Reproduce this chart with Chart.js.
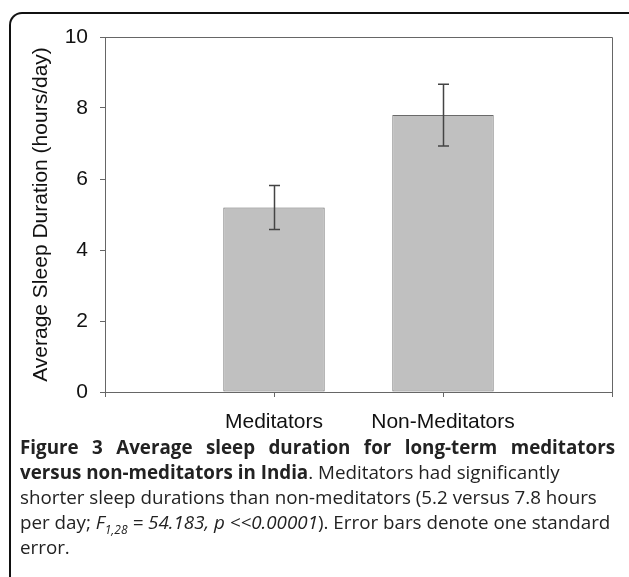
<!DOCTYPE html>
<html>
<head>
<meta charset="utf-8">
<script src="https://cdn.jsdelivr.net/npm/chart.js@4/dist/chart.umd.min.js"></script>
<style>
    html, body { margin: 0; padding: 0; background: #fff; overflow: hidden; }
    body { width: 629px; height: 577px; position: relative; }
    #frame {
        position: absolute; left: 9px; top: 12px; width: 640px; height: 600px;
        border: 2px solid #111; border-bottom: none; border-radius: 13px 13px 0 0;
        box-sizing: border-box;
    }
    #chartBox { position: absolute; left: 0; top: 0; width: 629px; height: 440px; }
    #caption {
        position: absolute; left: 20px; top: 435px; width: 595px;
        font-family: "Open Sans", sans-serif; font-size: 18.8px; line-height: 25px; color: #222;
    }
    #caption .line { white-space: nowrap; }
    #caption .just { text-align: justify; text-align-last: justify; white-space: normal; }
    sub { font-size: 12px; line-height: 0; }
</style>
</head>
<body>
<div id="frame"></div>
<div id="chartBox"><canvas id="sleepChart" width="629" height="440"></canvas></div>
<div id="caption">
    <div class="line just"><b>Figure 3 Average sleep duration for long-term meditators</b></div>
    <div class="line"><b>versus non-meditators in India</b>. Meditators had significantly</div>
    <div class="line">shorter sleep durations than non-meditators (5.2 versus 7.8 hours</div>
    <div class="line">per day; <i>F<sub>1,28</sub> = 54.183, p &lt;&lt;0.00001</i>). Error bars denote one standard</div>
    <div class="line">error.</div>
</div>
<script>
// categories - blank slots at the ends so the bars sit on the middle ticks
var categories = ["", "Meditators", "Non-Meditators", ""];
var sleepHours = [null, 5.2, 7.8, null];   // mean hours/day
var stdErrors = [null, 0.62, 0.87, null];  // one standard error
var yTicks = [0, 2, 4, 6, 8, 10];

var axisGrey = '#666';
var labelFont = { family: 'Liberation Sans, Arial', size: 21 };

// draws the error bars and the box round the plot area
var errorBarsPlugin = {
    id: 'errorBars',
    afterDatasetsDraw: function (chart) {
        var ctx = chart.ctx;
        var x = chart.scales.x;
        var y = chart.scales.y;
        var area = chart.chartArea;

        ctx.save();
        ctx.strokeStyle = axisGrey;
        ctx.lineWidth = 1;
        ctx.beginPath();
        ctx.moveTo(area.left, area.top + 0.5);
        ctx.lineTo(area.right + 0.5, area.top + 0.5);
        ctx.lineTo(area.right + 0.5, area.bottom);
        ctx.stroke();

        ctx.strokeStyle = '#444';
        ctx.lineWidth = 1.5;
        for (var i = 0; i < sleepHours.length; i++) {
            if (sleepHours[i] === null) continue;
            var px = Math.round(x.getPixelForValue(i)) + 0.5;
            var hi = y.getPixelForValue(sleepHours[i] + stdErrors[i]);
            var lo = y.getPixelForValue(sleepHours[i] - stdErrors[i]);
            ctx.beginPath();
            ctx.moveTo(px, hi); ctx.lineTo(px, lo);
            ctx.moveTo(px - 5.5, hi); ctx.lineTo(px + 5.5, hi);
            ctx.moveTo(px - 5.5, lo); ctx.lineTo(px + 5.5, lo);
            ctx.stroke();
        }
        ctx.restore();
    }
};

var ctx = document.getElementById('sleepChart');
var myChart = new Chart(ctx, {
    type: 'bar',
    data: {
        labels: categories,
        datasets: [{
            label: 'Average Sleep Duration',
            data: sleepHours,
            backgroundColor: '#c0c0c0',
            borderColor: '#6a6a6a',
            borderWidth: 1,
            borderSkipped: false,
            barPercentage: 0.6,
            categoryPercentage: 1
        }]
    },
    options: {
        responsive: false,
        animation: false,
        layout: { padding: { top: 37, right: 17, left: 0, bottom: 0 } },
        plugins: { legend: { display: false }, tooltip: { enabled: false } },
        scales: {
            x: {
                offset: false,
                grid: { offset: false, drawOnChartArea: false, drawTicks: true, tickLength: 5, color: axisGrey },
                border: { color: axisGrey },
                ticks: { color: '#111', padding: 13, maxRotation: 0, autoSkip: false, font: labelFont },
                afterFit: function (scale) { scale.height = 48; }
            },
            y: {
                min: 0, max: 10,
                afterBuildTicks: function (scale) {
                    scale.ticks = yTicks.map(function (v) { return { value: v }; });
                },
                grid: { drawOnChartArea: false, drawTicks: true, tickLength: 5, color: axisGrey },
                border: { color: axisGrey },
                ticks: { color: '#111', padding: 12, font: labelFont },
                title: {
                    display: true,
                    text: 'Average Sleep Duration (hours/day)',
                    color: '#111',
                    padding: { top: 29, bottom: 0 },
                    font: labelFont
                },
                afterFit: function (scale) { scale.width = 105; }
            }
        }
    },
    plugins: [errorBarsPlugin]
});
</script>
</body>
</html>
